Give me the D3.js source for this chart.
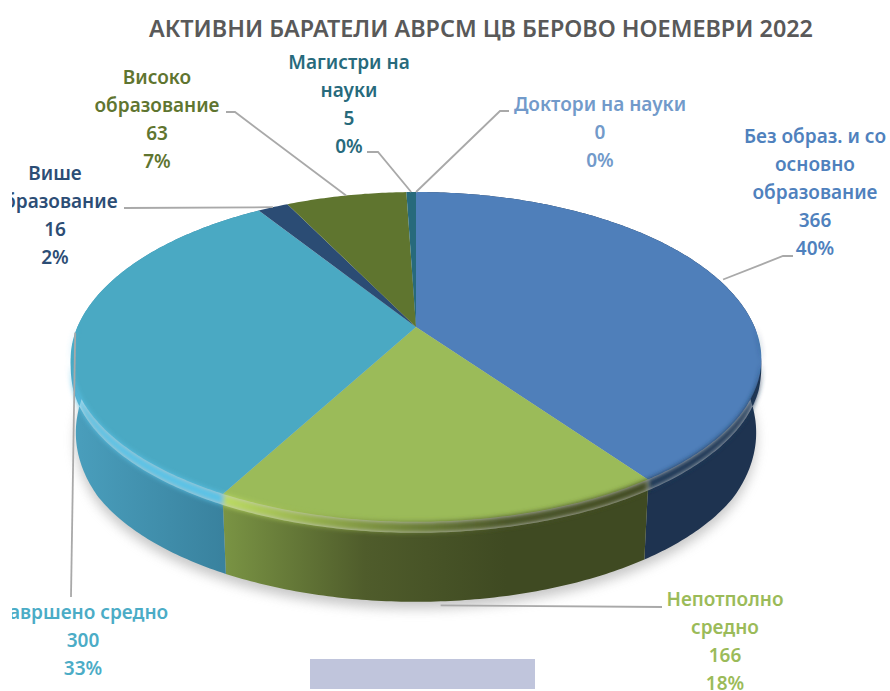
<!DOCTYPE html>
<html>
<head>
<meta charset="utf-8">
<script src="https://cdnjs.cloudflare.com/ajax/libs/d3/7.8.5/d3.min.js"></script>
<style>
  html, body { margin: 0; background: #fff; }
  text { font-family: "Noto Sans", sans-serif; font-weight: 600; text-anchor: middle; }
</style>
</head>
<body>
<svg></svg>
<script>
var width = 890;
var height = 691;

var titleText = 'АКТИВНИ БАРАТЕЛИ АВРСМ ЦВ БЕРОВО НОЕМЕВРИ 2022';

// clockwise from 12 o'clock
var names = [
  ['Без образ. и со', 'основно', 'образование'],
  ['Непотполно', 'средно'],
  ['Завршено средно'],
  ['Више', 'образование'],
  ['Високо', 'образование'],
  ['Магистри на', 'науки'],
  ['Доктори на науки']
];
var counts = [366, 166, 300, 16, 63, 5, 0];
var percents = ['40%', '18%', '33%', '2%', '7%', '0%', '0%'];

var topColors = ['#4f7fba', '#9bbb59', '#4aa9c3', '#2b4c74', '#5f752f', '#276a7c', '#729aca'];
var textColors = ['#4f81bd', '#9bbb59', '#4bacc6', '#2c4d75', '#5f7530', '#276a7c', '#729aca'];

// wall and bevel colours, left to right, only the three front slices show them
var wallColors = [
  ['#1e3350', '#1e3350'],
  ['#7a9444', '#4f5c2b', '#3f4a22', '#3f4a22'],
  ['#4a9fbd', '#357b97']
];
var bevelColors = [
  ['#1f3857', '#1f3857'],
  ['#bcdc62', '#7f9640', '#4a5527', '#414b22'],
  ['#5ac2e6', '#5ac2e6']
];

// label centre, first baseline, and leader elbow/end
var labelLayout = [
  { x: 815, y: 143, elbow: [[783, 256], [793, 256]], push: 1.015 },
  { x: 725, y: 606, elbow: [[662, 607]], low: true },
  { x: 83, y: 619, elbow: [[71, 597]] },
  { x: 55, y: 180, elbow: [[124, 208]] },
  { x: 157, y: 84, elbow: [[235, 112], [226, 112]] },
  { x: 349, y: 69, elbow: [[378, 152], [367, 152]] },
  { x: 600, y: 111, elbow: [[500, 111], [509, 111]] }
];

var lineHeight = 28;

// pie plane seen in perspective: apex sits above the middle of the rim ellipse
var apex = [416, 327];
var persp = -0.206;
var planeX = d3.scaleLinear().domain([0, 1]).range([0, 338.6]);
var planeY = d3.scaleLinear().domain([0, 1]).range([0, 162.8]);
var floorShrink = 0.985;
var bevel = 11;

function rim(angle) {
  var u = Math.sin(angle);
  var v = -Math.cos(angle);
  var w = 1 + persp * v;
  return [apex[0] + planeX(u) / w, apex[1] + planeY(v) / w];
}

// flat face, pulled in towards the apex along the front
function flat(angle) {
  var v = Math.max(0, -Math.cos(angle));
  var f = 1 - 0.05 * v * v;
  var p = rim(angle);
  return [apex[0] + (p[0] - apex[0]) * f, apex[1] + (p[1] - apex[1]) * f];
}

// where the rounded edge meets the wall
function wallTop(angle) {
  var v = Math.max(0, -Math.cos(angle));
  var p = flat(angle);
  return [p[0], p[1] + bevel * Math.min(1, v / 0.3)];
}

function floorRim(angle) {
  var v = Math.max(0, -Math.cos(angle));
  var p = flat(angle);
  return [apex[0] + (p[0] - apex[0]) * floorShrink, p[1] + 70 + 10 * Math.min(1, v / 0.5)];
}

function sweep(a0, a1) {
  var n = Math.max(2, Math.ceil((a1 - a0) * 80));
  return d3.range(n + 1).map(function(i) { return a0 + (a1 - a0) * i / n; });
}

var line = d3.line();

var pie = d3.pie().sort(null).value(function(d) { return d; });
var arcs = pie(counts);

var svg = d3.select('svg')
  .attr('width', width)
  .attr('height', height)
  .style('display', 'block');

var defs = svg.append('defs');

defs.append('filter').attr('id', 'shadow')
  .attr('x', '-10%').attr('y', '-10%').attr('width', '120%').attr('height', '120%')
  .append('feGaussianBlur').attr('stdDeviation', 6);

defs.append('filter').attr('id', 'soft')
  .attr('x', '-5%').attr('y', '-20%').attr('width', '110%').attr('height', '140%')
  .append('feGaussianBlur').attr('stdDeviation', 2.4);

defs.append('clipPath').attr('id', 'page-left')
  .append('rect').attr('x', 12).attr('y', 0).attr('width', width - 12).attr('height', height);

function addGradient(id, colors, a0, a1) {
  var xs = sweep(a0, a1).map(function(a) { return wallTop(a)[0]; });
  var g = defs.append('linearGradient').attr('id', id)
    .attr('gradientUnits', 'userSpaceOnUse')
    .attr('x1', d3.min(xs)).attr('x2', d3.max(xs)).attr('y1', 0).attr('y2', 0);
  colors.forEach(function(c, i) {
    g.append('stop').attr('offset', i / (colors.length - 1)).attr('stop-color', c);
  });
}

// shadow under the disc
svg.append('path')
  .attr('d', line(sweep(0, 2 * Math.PI).map(floorRim)) + 'Z')
  .attr('transform', 'translate(0, 7)')
  .attr('fill', '#9a9a9a')
  .attr('opacity', 0.55)
  .attr('filter', 'url(#shadow)');

// side walls
wallColors.forEach(function(colors, i) {
  var d = arcs[i];
  addGradient('wall' + i, colors, d.startAngle, d.endAngle);
  var a = sweep(d.startAngle, d.endAngle);
  var pts = a.map(wallTop).concat(a.slice().reverse().map(floorRim));
  svg.append('path')
    .attr('d', line(pts) + 'Z')
    .attr('fill', 'url(#wall' + i + ')');
});

// top surface
svg.selectAll('path.top')
  .data(arcs)
  .enter()
  .append('path')
  .attr('class', 'top')
  .attr('d', function(d) {
    return line([apex].concat(sweep(d.startAngle, d.endAngle).map(flat))) + 'Z';
  })
  .attr('fill', function(d, i) { return topColors[i]; });

// bevel along the front rim
bevelColors.forEach(function(colors, i) {
  var d = arcs[i];
  var a0 = Math.max(d.startAngle, Math.PI / 2 - 0.1);
  var a1 = Math.min(d.endAngle, 3 * Math.PI / 2 + 0.1);
  addGradient('bevel' + i, colors, d.startAngle, d.endAngle);
  var a = sweep(a0, a1);
  var pts = a.map(wallTop).concat(a.slice().reverse().map(flat));
  svg.append('path')
    .attr('d', line(pts) + 'Z')
    .attr('fill', 'url(#bevel' + i + ')')
    .attr('filter', 'url(#soft)');
});

// leaders
arcs.forEach(function(d, i) {
  var mid = (d.startAngle + d.endAngle) / 2;
  var layout = labelLayout[i];
  var start = layout.low ? floorRim(mid) : rim(mid);
  if (layout.low) start = [start[0], start[1] + 4];
  if (layout.push) start = [apex[0] + (start[0] - apex[0]) * layout.push, start[1]];
  svg.append('path')
    .attr('d', line([start].concat(layout.elbow)))
    .attr('fill', 'none')
    .attr('stroke', '#a9a9a9')
    .attr('stroke-width', 1.8);
});

// labels
var labels = svg.append('g').attr('clip-path', 'url(#page-left)');

names.forEach(function(nameLines, i) {
  var layout = labelLayout[i];
  var rows = nameLines.concat([String(counts[i]), percents[i]]);
  var t = labels.append('text')
    .attr('fill', textColors[i])
    .style('font-size', '19px');
  rows.forEach(function(row, j) {
    t.append('tspan')
      .attr('x', layout.x)
      .attr('y', layout.y + j * lineHeight)
      .text(row);
  });
});

svg.append('text')
  .attr('x', 481)
  .attr('y', 37)
  .attr('fill', '#595959')
  .style('font-size', '23px')
  .attr('textLength', 664)
  .attr('lengthAdjust', 'spacingAndGlyphs')
  .text(titleText);

// stray pale box at the bottom of the picture
svg.append('rect')
  .attr('x', 310)
  .attr('y', 659)
  .attr('width', 225)
  .attr('height', 30)
  .attr('fill', '#c0c5dc');
</script>
</body>
</html>
